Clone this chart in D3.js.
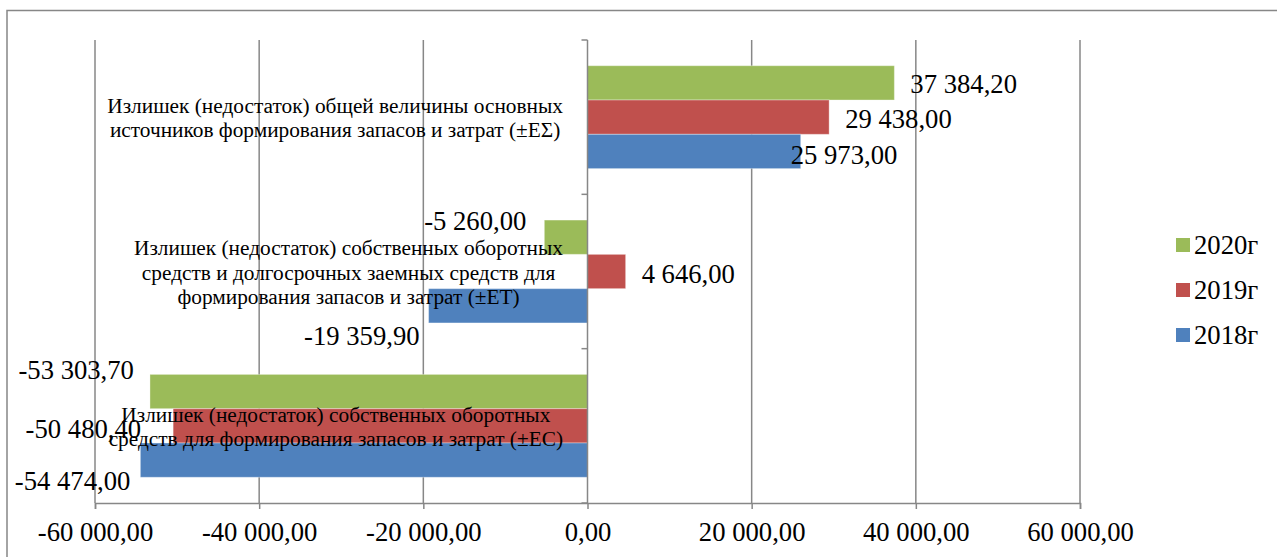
<!DOCTYPE html>
<html>
<head>
<meta charset="utf-8">
<script src="https://cdn.jsdelivr.net/npm/d3@7"></script>
<style>
  html, body { margin: 0; padding: 0; background: #fff; }
  svg { display: block; font-family: "Liberation Serif", "Times New Roman", serif; }
  svg text { font-family: "Liberation Serif", "Times New Roman", serif; }
</style>
</head>
<body>
<svg id="chart" width="1277" height="557"></svg>
<script>
// Indicators, listed from the top of the chart down
const categories = [
  "Излишек (недостаток) общей величины основных источников формирования запасов и затрат (±EΣ)",
  "Излишек (недостаток) собственных оборотных средств и долгосрочных заемных средств для формирования запасов и затрат (±ET)",
  "Излишек (недостаток) собственных оборотных средств для формирования запасов и затрат (±EC)"
];
// Wrapped lines of the category labels
const categoryLines = [
  ["Излишек (недостаток) общей величины основных", "источников формирования запасов и затрат (±EΣ)"],
  ["Излишек (недостаток) собственных оборотных", "средств и долгосрочных заемных средств для", "формирования запасов и затрат (±ET)"],
  ["Излишек (недостаток) собственных оборотных", "средств для формирования запасов и затрат (±EC)"]
];
const years = ["2020г", "2019г", "2018г"];
const values2020 = [37384.20, -5260.00, -53303.70];
const values2019 = [29438.00, 4646.00, -50480.40];
const values2018 = [25973.00, -19359.90, -54474.00];
const xTicks = [-60000, -40000, -20000, 0, 20000, 40000, 60000];

const seriesValues = [values2020, values2019, values2018];
const colors = ["#9BBB59", "#C0504D", "#4F81BD"];

// hand-placed data label nudges [dx, dy] per series / category
const labelNudge = [
  [[0, 1], [-2, -16], [0, -22]],
  [[0, 2], [0, 2], [-16, 3]],
  [[-26, 4], [7, 30], [6, 21]]
];

const fmt = v => {
  const s = d3.format(",.2f")(v);
  return s.replace(/,/g, " ").replace(".", ",").replace("−", "-");
};

const svg = d3.select("#chart");

// chart frame
svg.append("path")
  .attr("d", "M7,557V10.5H1277")
  .attr("fill", "none").attr("stroke", "#878787").attr("stroke-width", 1.5);

const plot = { left: 95, right: 1080, top: 40, bottom: 503 };

const x = d3.scaleLinear().domain([-60000, 60000]).range([plot.left, plot.right]);
const y = d3.scaleBand().domain(d3.range(categories.length)).range([plot.top, plot.bottom]).paddingInner(0).paddingOuter(0);
// 150% gap between groups: three bars plus 1.5 bar of spacing per band
const inner = d3.scaleBand().domain(d3.range(years.length))
  .range([0, y.bandwidth()]).paddingInner(0).paddingOuter(0.75);

// vertical gridlines
svg.append("g").selectAll("line").data(xTicks.filter(t => t !== 0)).join("line")
  .attr("x1", d => x(d)).attr("x2", d => x(d))
  .attr("y1", plot.top).attr("y2", plot.bottom)
  .attr("stroke", "#878787").attr("stroke-width", 1.5);

// bottom value axis
const xAxis = svg.append("g").attr("transform", `translate(0,${plot.bottom})`)
  .call(d3.axisBottom(x).tickValues(xTicks).tickSize(6).tickPadding(13).tickFormat(fmt));
xAxis.select(".domain").attr("stroke", "#878787").attr("stroke-width", 1.5);
xAxis.selectAll(".tick line").attr("stroke", "#878787").attr("stroke-width", 1.5);
xAxis.selectAll(".tick text")
  .attr("font-family", "Liberation Serif, Times New Roman, serif")
  .attr("font-size", 26.67).attr("fill", "#000");

// bars
seriesValues.forEach((vals, si) => {
  svg.append("g").selectAll("rect").data(vals).join("rect")
    .attr("x", d => Math.min(x(0), x(d)))
    .attr("width", d => Math.abs(x(d) - x(0)))
    .attr("y", (d, ci) => y(ci) + inner(si))
    .attr("height", inner.bandwidth())
    .attr("fill", colors[si])
    .attr("stroke", "#fff").attr("stroke-opacity", 0.35).attr("stroke-width", 1);
});

// category axis at zero
const yAxis = svg.append("g");
yAxis.append("line")
  .attr("x1", x(0)).attr("x2", x(0)).attr("y1", plot.top).attr("y2", plot.bottom)
  .attr("stroke", "#878787").attr("stroke-width", 1.5);
yAxis.selectAll("line.tk").data(d3.range(categories.length + 1)).join("line")
  .attr("class", "tk")
  .attr("x1", x(0) - 6).attr("x2", x(0))
  .attr("y1", d => plot.top + d * y.bandwidth()).attr("y2", d => plot.top + d * y.bandwidth())
  .attr("stroke", "#878787").attr("stroke-width", 1.5);

// category labels: block right-aligned near the axis, lines centred in the block
const lineH = 24.6;
const labelRight = 563;
categoryLines.forEach((lines, ci) => {
  const g = svg.append("g");
  const cy = y(ci) + y.bandwidth() / 2 + 1;
  const t = g.selectAll("text").data(lines).join("text")
    .attr("y", (d, i) => cy + (i - (lines.length - 1) / 2) * lineH)
    .attr("dominant-baseline", "central")
    .attr("text-anchor", "middle")
    .attr("font-size", 21.33).attr("fill", "#000")
    .text(d => d);
  let maxW = 0;
  t.each(function () { maxW = Math.max(maxW, this.getComputedTextLength()); });
  t.attr("x", labelRight - maxW / 2);
});

// data labels
seriesValues.forEach((vals, si) => {
  svg.append("g").selectAll("text").data(vals).join("text")
    .attr("x", (d, ci) => x(d) + (d >= 0 ? 16 : -16) + labelNudge[si][ci][0])
    .attr("y", (d, ci) => y(ci) + inner(si) + inner.bandwidth() / 2 + labelNudge[si][ci][1])
    .attr("text-anchor", d => d >= 0 ? "start" : "end")
    .attr("dominant-baseline", "central")
    .attr("font-size", 26.67).attr("fill", "#000")
    .text(d => fmt(d));
});

// legend
const legend = svg.append("g").attr("transform", "translate(1176,245)");
const li = legend.selectAll("g").data(years).join("g")
  .attr("transform", (d, i) => `translate(0,${i * 45})`);
li.append("rect").attr("x", 0).attr("y", -7).attr("width", 14).attr("height", 14)
  .attr("fill", (d, i) => colors[i]);
li.append("text").attr("x", 18).attr("y", 0)
  .attr("dominant-baseline", "central")
  .attr("font-size", 26.67).attr("fill", "#000")
  .text(d => d);
</script>
</body>
</html>
